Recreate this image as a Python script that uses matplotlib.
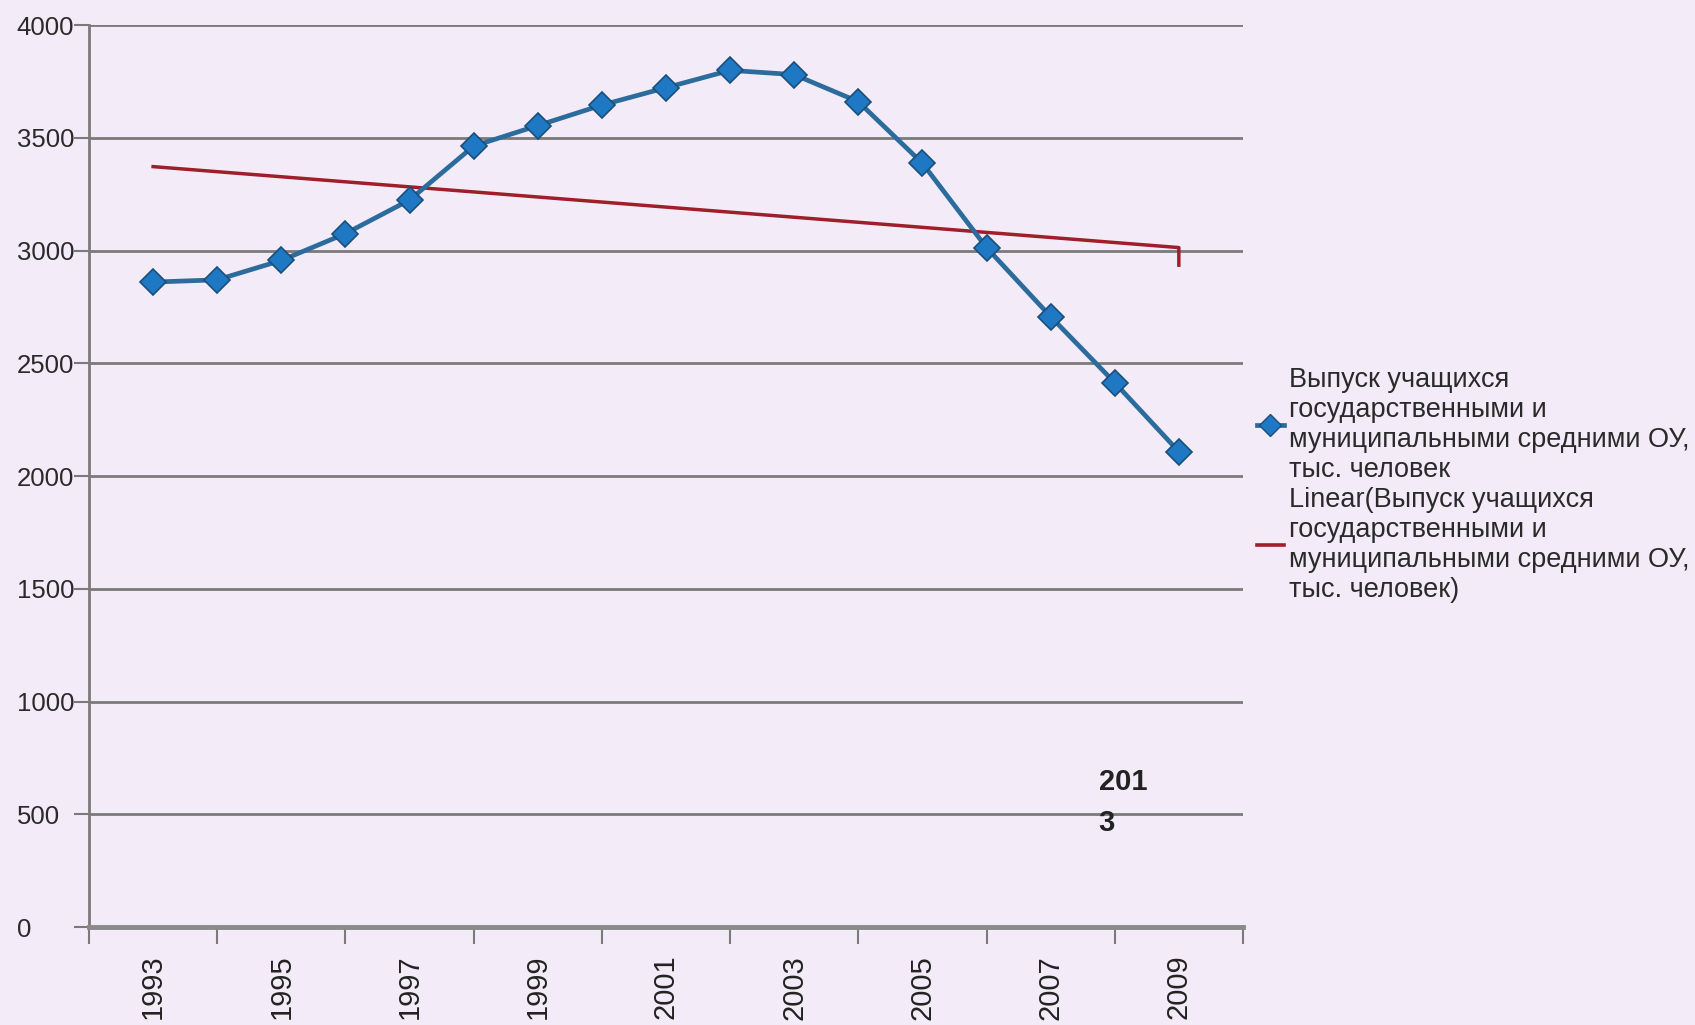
import matplotlib
matplotlib.use('Agg')
import matplotlib.pyplot as plt
from matplotlib.lines import Line2D

years = [1993, 1994, 1995, 1996, 1997, 1998, 1999, 2000, 2001,
         2002, 2003, 2004, 2005, 2006, 2007, 2008, 2009]
graduates = [2860, 2870, 2956, 3075, 3224, 3463, 3554, 3645, 3722,
             3799, 3780, 3660, 3387, 3013, 2707, 2414, 2108]
# trend line as drawn (incl. the little hook at the end)
trend_x = [1993, 2009, 2009]
trend_y = [3372, 3013, 2935]

series_label = ('Выпуск учащихся\nгосударственными и\n'
                'муниципальными средними ОУ,\nтыс. человек')
trend_label = ('Linear(Выпуск учащихся\nгосударственными и\n'
               'муниципальными средними ОУ,\nтыс. человек)')
y_ticks = [0, 500, 1000, 1500, 2000, 2500, 3000, 3500, 4000]
x_label_years = [1993, 1995, 1997, 1999, 2001, 2003, 2005, 2007, 2009]
x_tick_pos = [1992, 1994, 1996, 1998, 2000, 2002, 2004, 2006, 2008, 2010]

bg = '#f3ecf8'
blue_line = '#2c6c9c'
blue_fill = '#1f78c4'
red = '#a01e2a'
grid_c = '#7a7a7a'

plt.rcParams['font.family'] = ['Liberation Sans', 'DejaVu Sans']

fig = plt.figure(figsize=(16.95, 10.25), dpi=100, facecolor=bg)
ax = fig.add_axes([0.0525, 0.0956, 0.6808, 0.88])
ax.set_facecolor(bg)

ax.plot(years, graduates, color=blue_line, lw=3.4, marker='D', ms=13.5,
        mfc=blue_fill, mec='#1b4f7a', mew=1.2, zorder=4)
ax.plot(trend_x, trend_y, color=red, lw=2.5, zorder=3)

ax.set_xlim(1992, 2010)
ax.set_ylim(0, 4000)
ax.set_yticks(y_ticks)
ax.set_yticklabels([str(v) for v in y_ticks], fontsize=18.5, color='#2a2a2a')
for lab in ax.get_yticklabels():
    lab.set_horizontalalignment('left')
ax.yaxis.grid(True, color=grid_c, lw=2)
ax.set_axisbelow(True)
ax.tick_params(axis='y', length=11, width=1.5, color=grid_c, pad=41)

ax.set_xticks(x_label_years)
ax.set_xticklabels([str(y) for y in x_label_years], rotation=90,
                   fontsize=21, color='#222222')
ax.set_xticks(x_tick_pos, minor=True)
ax.tick_params(axis='x', which='major', length=0, pad=20)
ax.tick_params(axis='x', which='minor', length=12, width=1.5, color=grid_c)

for side in ['top', 'right']:
    ax.spines[side].set_visible(False)
ax.spines['left'].set_color(grid_c)
ax.spines['left'].set_linewidth(2)
ax.spines['bottom'].set_color('#8a8a8a')
ax.spines['bottom'].set_linewidth(3.5)

ax.text(2007.75, 705, '201\n3', fontsize=21, fontweight='bold',
        ha='left', va='top', linespacing=1.6, color='#222222')

handles = [
    Line2D([0], [0], color=blue_line, lw=3.4, marker='D', ms=11,
           mfc=blue_fill, mec='#1b4f7a'),
    Line2D([0], [0], color=red, lw=2.6),
]
fig.legend(handles, [series_label, trend_label], loc='center left',
           bbox_to_anchor=(0.727, 0.527), frameon=False, fontsize=19.5,
           handlelength=1.0, handletextpad=0.2, labelspacing=0.15,
           labelcolor='#2a2a2a')

fig.savefig('out.png', dpi=100, facecolor=bg)
